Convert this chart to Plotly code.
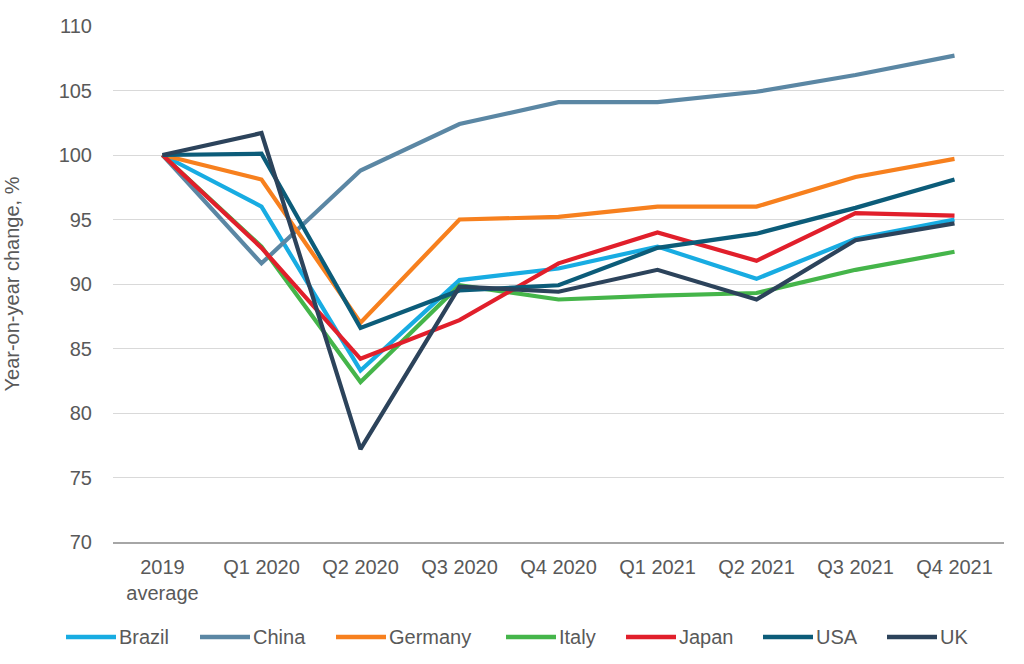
import plotly.graph_objects as go

categories = ["2019<br>average", "Q1 2020", "Q2 2020", "Q3 2020", "Q4 2020",
              "Q1 2021", "Q2 2021", "Q3 2021", "Q4 2021"]

brazil  = [100, 96.0, 83.3, 90.3, 91.2, 92.9, 90.4, 93.5, 95.0]
china   = [100, 91.6, 98.8, 102.4, 104.1, 104.1, 104.9, 106.2, 107.7]
germany = [100, 98.1, 87.0, 95.0, 95.2, 96.0, 96.0, 98.3, 99.7]
italy   = [100, 92.9, 82.4, 89.9, 88.8, 89.1, 89.3, 91.1, 92.5]
japan   = [100, 92.8, 84.2, 87.2, 91.6, 94.0, 91.8, 95.5, 95.3]
usa     = [100, 100.1, 86.6, 89.5, 89.9, 92.8, 93.9, 95.9, 98.1]
uk      = [100, 101.7, 77.2, 89.8, 89.4, 91.1, 88.8, 93.4, 94.7]

series = [
    ("Brazil", brazil, "#18ACE2"),
    ("China", china, "#5B87A4"),
    ("Germany", germany, "#F7801E"),
    ("Italy", italy, "#45B54A"),
    ("Japan", japan, "#E11F2B"),
    ("USA", usa, "#0C5C79"),
    ("UK", uk, "#2C435B"),
]

# legend layout (pixel positions of each legend entry's line start)
legend_starts_px = [66, 200, 336, 506, 626, 763, 887]
legend_line_len = 50
legend_y_px = 637

font_color = "#595959"
fs = 20

W, H = 1024, 664
plot_left, plot_right = 113, 1004
plot_top, plot_bottom = 26, 542
pw = plot_right - plot_left
ph = plot_bottom - plot_top

fig = go.Figure()
for name, vals, color in series:
    fig.add_trace(go.Scatter(x=categories, y=vals, name=name, mode="lines",
                             line=dict(color=color, width=4.2), showlegend=False))

ly = (plot_bottom - legend_y_px) / ph
for (name, vals, color), sx in zip(series, legend_starts_px):
    x0 = (sx - plot_left) / pw
    x1 = (sx + legend_line_len - plot_left) / pw
    fig.add_shape(type="line", xref="paper", yref="paper", x0=x0, x1=x1,
                  y0=ly, y1=ly, line=dict(color=color, width=4.5))
    fig.add_annotation(xref="paper", yref="paper", x=x1, y=ly, text=name,
                       showarrow=False, xanchor="left", yanchor="middle",
                       xshift=1, font=dict(size=fs, color=font_color))

fig.update_layout(
    width=W, height=H,
    paper_bgcolor="white", plot_bgcolor="white",
    margin=dict(l=plot_left, r=W - plot_right, t=plot_top, b=H - plot_bottom,
                autoexpand=False),
    font=dict(family="Liberation Sans, Arial, sans-serif", size=fs, color=font_color),
    showlegend=False,
)
fig.update_xaxes(type="category", range=[-0.5, 8.5], showgrid=False, showline=True,
                 linecolor="#A6A6A6", linewidth=1.5, ticks="",
                 ticklabelstandoff=6, automargin=False,
                 tickfont=dict(size=fs, color=font_color))
fig.update_yaxes(range=[70, 110], dtick=5, showgrid=True, gridcolor="#D9D9D9",
                 gridwidth=1, zeroline=False, showline=False, ticks="",
                 ticklabelstandoff=20, automargin=False,
                 title=dict(text="Year-on-year change, %", standoff=33,
                            font=dict(size=fs, color=font_color)),
                 tickfont=dict(size=fs, color=font_color))

fig.write_html("out.html",
               config={"displayModeBar": False},
               post_script="document.body.style.margin='0px';"
                           "document.body.style.overflow='hidden';")
